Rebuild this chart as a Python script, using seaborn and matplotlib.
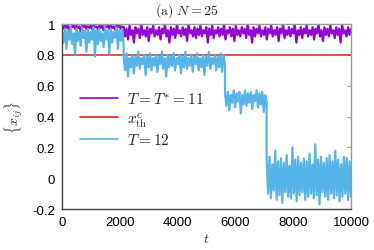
import numpy as np
import matplotlib
matplotlib.use('Agg')
import matplotlib.pyplot as plt
import seaborn as sns

# step times where each trace jumps to a new plateau
PURPLE_STEPS = [0, 2130, 10000]
BLUE_STEPS = [0, 2130, 5640, 7080, 10000]
X_TH = 0.8
T_RANGE = [0, 10000]

# T = T* = 11 trace, values per plateau
purple_seg1 = [0.99, 0.97, 0.995, 0.975, 0.99, 0.96, 0.985, 0.98, 0.995, 0.97,
               0.99, 0.975, 0.985, 0.955, 0.99, 0.98, 0.995, 0.97, 0.985, 0.975,
               0.99, 0.965, 0.995, 0.98, 0.985, 0.97, 0.99, 0.975, 0.995, 0.96,
               0.985, 0.98, 0.99, 0.97, 0.995, 0.975, 0.985, 0.965, 0.99, 0.98,
               0.995, 0.97, 0.985, 0.975]
purple_seg2 = [0.98, 0.92, 0.97, 0.90, 0.99, 0.93, 0.96, 0.88, 0.98, 0.94,
               0.97, 0.91, 1.00, 0.93, 0.96, 0.92, 0.98, 0.89, 0.97, 0.94,
               0.99, 0.92, 0.96, 0.93, 0.98, 0.90, 0.97, 0.94, 1.00, 0.92,
               0.96, 0.88, 0.98, 0.93, 0.97, 0.91, 0.99, 0.94, 0.96, 0.92,
               0.98, 0.93, 0.97, 0.89, 1.00, 0.94, 0.96, 0.92, 0.98, 0.91,
               0.97, 0.93, 0.99, 0.92, 0.96, 0.94, 0.98, 0.88, 0.97, 0.93,
               0.99, 0.91, 0.96, 0.94, 0.98, 0.92, 0.97, 0.93, 1.00, 0.90,
               0.96, 0.94, 0.98, 0.92, 0.97, 0.89, 0.99, 0.93, 0.96, 0.92,
               0.98, 0.94, 0.97, 0.91, 1.00, 0.93, 0.96, 0.88, 0.98, 0.92,
               0.97, 0.94, 0.99, 0.92, 0.96, 0.93, 0.98, 0.90, 0.97, 0.94,
               0.99, 0.92, 0.96, 0.93, 0.98, 0.89, 0.97, 0.94, 1.00, 0.91,
               0.96, 0.93, 0.98, 0.92, 0.97, 0.94, 0.99, 0.88, 0.96, 0.93,
               0.98, 0.91, 0.97, 0.94, 0.99, 0.92, 0.96, 0.93, 0.98, 0.90,
               0.97, 0.94, 1.00, 0.92, 0.96, 0.89, 0.98, 0.93, 0.97, 0.92,
               0.99, 0.94, 0.96, 0.91, 0.98, 0.93, 0.97, 0.88, 0.99, 0.94,
               0.96, 0.92, 0.98, 0.93, 0.97]

# T = 12 trace, four plateaus
blue_seg1 = [0.95, 0.88, 0.97, 0.84, 0.96, 0.90, 0.98, 0.87, 0.94, 0.80,
             0.97, 0.89, 0.95, 0.86, 0.98, 0.91, 0.96, 0.82, 0.97, 0.88,
             0.95, 0.90, 0.98, 0.79, 0.96, 0.87, 0.97, 0.89, 0.94, 0.85,
             0.98, 0.90, 0.96, 0.81, 0.97, 0.88, 0.95, 0.91, 0.98, 0.84,
             0.96, 0.89, 0.97, 0.86]
blue_seg2 = [0.79, 0.70, 0.81, 0.66, 0.78, 0.72, 0.80, 0.68, 0.79, 0.73,
             0.82, 0.71, 0.78, 0.74, 0.80, 0.67, 0.79, 0.72, 0.81, 0.70,
             0.78, 0.73, 0.80, 0.69, 0.79, 0.74, 0.82, 0.71, 0.78, 0.66,
             0.80, 0.72, 0.79, 0.73, 0.81, 0.70, 0.78, 0.74, 0.80, 0.68,
             0.79, 0.72, 0.82, 0.71, 0.78, 0.73, 0.80, 0.69, 0.79, 0.74,
             0.81, 0.70, 0.78, 0.72, 0.80, 0.67, 0.79, 0.73, 0.82, 0.71,
             0.78, 0.74, 0.80, 0.70, 0.79, 0.72, 0.81, 0.69, 0.80, 0.73]
blue_seg3 = [0.55, 0.47, 0.56, 0.44, 0.54, 0.49, 0.57, 0.46, 0.55, 0.50,
             0.56, 0.42, 0.54, 0.48, 0.57, 0.47, 0.55, 0.49, 0.56, 0.45,
             0.54, 0.50, 0.57, 0.46, 0.55, 0.48, 0.56, 0.43, 0.54, 0.49]
blue_seg4 = [0.12, -0.10, 0.14, -0.13, 0.09, -0.08, 0.18, -0.14, 0.11, -0.11,
             0.13, -0.16, 0.10, -0.09, 0.15, -0.12, 0.08, -0.13, 0.20, -0.10,
             0.12, -0.15, 0.14, -0.11, 0.10, -0.09, 0.13, -0.14, 0.11, -0.12,
             0.16, -0.10, 0.09, -0.13, 0.22, -0.11, 0.12, -0.17, 0.14, -0.09,
             0.10, -0.12, 0.13, -0.14, 0.15, -0.10, 0.11, -0.13, 0.18, -0.11,
             0.12, -0.15, 0.09, -0.12, 0.14, -0.10, 0.13, -0.14, 0.11, -0.12]

YTICKS = [-0.2, 0, 0.2, 0.4, 0.6, 0.8, 1]
YTICKLABELS = ['-0.2', '0', '0.2', '0.4', '0.6', '0.8', '1']
XTICKS = [0, 2000, 4000, 6000, 8000, 10000]

PURPLE = '#9400D3'
RED = '#E51E10'
BLUE = '#56B4E9'


def build(steps, segs):
    # spread each plateau's samples evenly between its step times
    ts, ys = [], []
    for a, b, seg in zip(steps[:-1], steps[1:], segs):
        ts.append(np.linspace(a, b, len(seg)))
        ys.append(np.asarray(seg))
    return np.concatenate(ts), np.concatenate(ys)


t_p, y_p = build(PURPLE_STEPS, [purple_seg1, purple_seg2])
t_b, y_b = build(BLUE_STEPS, [blue_seg1, blue_seg2, blue_seg3, blue_seg4])

sns.set_style('white')
plt.rcParams['font.family'] = ['Liberation Sans', 'DejaVu Sans']
plt.rcParams['mathtext.fontset'] = 'cm'

fig = plt.figure(figsize=(3.74, 2.51), dpi=100)
ax = fig.add_axes([0.166, 0.163, 0.7725, 0.737])

sns.lineplot(x=t_p, y=y_p, ax=ax, color=PURPLE, lw=1.6, sort=False,
             estimator=None, label=r'$T = T^{*} = 11$')
sns.lineplot(x=T_RANGE, y=[X_TH, X_TH], ax=ax, color=RED, lw=1.1,
             label=r'$x^{c}_{\mathrm{th}}$')
sns.lineplot(x=t_b, y=y_b, ax=ax, color=BLUE, lw=1.6, sort=False,
             estimator=None, label=r'$T = 12$')

ax.set_xlim(0, 10000)
ax.set_ylim(-0.2, 1)
ax.set_xticks(XTICKS)
ax.set_xticklabels([str(x) for x in XTICKS])
ax.set_yticks(YTICKS)
ax.set_yticklabels(YTICKLABELS)
ax.tick_params(direction='in', top=True, right=True, length=3, width=0.6,
               color='#888888', labelsize=9.5, labelcolor='black', pad=5)

for s in ['left', 'bottom']:
    ax.spines[s].set_color('#444444')
    ax.spines[s].set_linewidth(1.0)
for s in ['top', 'right']:
    ax.spines[s].set_color('#999999')
    ax.spines[s].set_linewidth(1.0)

ax.set_xlabel(r'$t$', fontsize=10, labelpad=2)
ax.set_ylabel(r'$\{x_{ij}\}$', fontsize=10, labelpad=5)
fig.text(0.5, 0.94, r'$\mathrm{(a)}\ N = 25$', ha='center', va='baseline',
         fontsize=10)

leg = ax.legend(loc='upper left', bbox_to_anchor=(0.035, 0.68), frameon=False,
                fontsize=11, handlelength=2.5, labelspacing=0.25,
                handletextpad=0.6, borderpad=0)
for line in leg.get_lines():
    line.set_linewidth(1.2)

fig.savefig('out.png', dpi=100)
